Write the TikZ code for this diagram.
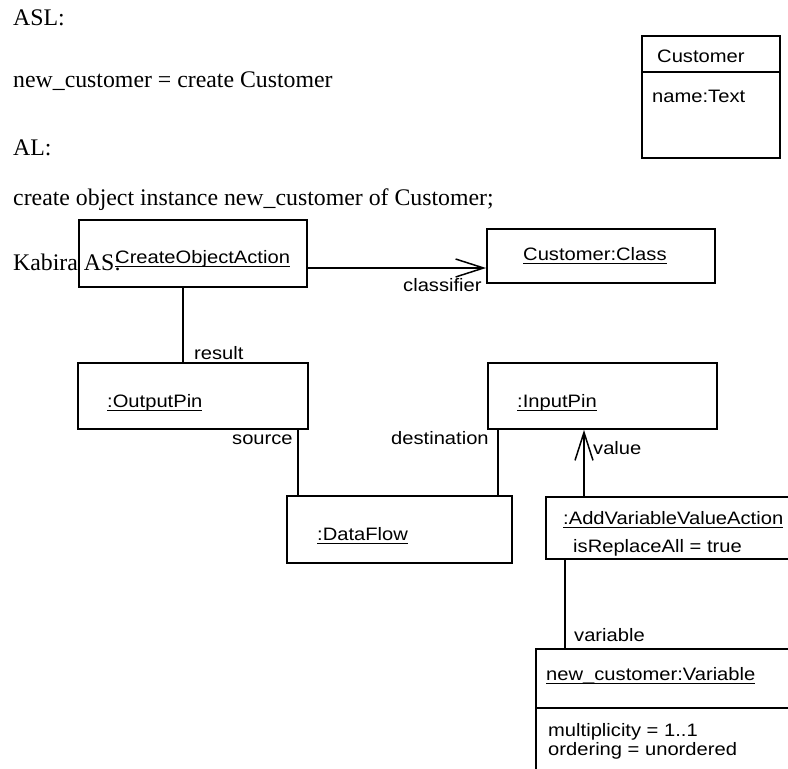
\documentclass[tikz,border=0pt]{standalone}
\usepackage{fontspec}
\setmainfont{Liberation Serif}
\newfontfamily\umlfont[FakeStretch=1.12]{Liberation Sans}
\usetikzlibrary{arrows.meta}

% underlined object name with a rule scaled to the label size
\newcommand\objname[1]{\leavevmode\setbox0=\hbox{#1}\rlap{\rule[-4.4pt]{\wd0}{1.5pt}}\box0}

\tikzset{
  prose/.style={inner sep=0pt, anchor=base west, font=\fontsize{23.8}{28}\selectfont},
  umltext/.style={inner sep=0pt, anchor=base west, font=\umlfont\fontsize{18}{21}\selectfont},
  box/.style={draw, line width=1.9pt, inner sep=0pt, fill=none},
  link/.style={line width=1.9pt},
  navarrow/.style={line width=1.9pt, -{Straight Barb[length=28pt,width=18pt,line width=1.5pt]}},
}

\begin{document}
\begin{tikzpicture}[x=1pt, y=-1pt]
\useasboundingbox (0,0) rectangle (788,769);
\clip (0,0) rectangle (788,769);
\fill[white] (0,0) rectangle (788,769);

% action language listing
\node[prose] (asl)   at (13,25)  {ASL:};
\node[prose] (aslc)  at (13,87)  {new\_customer = create Customer};
\node[prose] (al)    at (13,155) {AL:};
\node[prose] (alc)   at (13,205) {create object instance new\_customer of Customer;};
\node[prose] (kab)   at (13,270) {Kabira AS:};

% class Customer
\node[box, minimum width=138pt, minimum height=122pt] (cust) at (711,97) {};
\draw[link] ([yshift=-37pt]cust.north west) -- ([yshift=-37pt]cust.north east);
\node[umltext] (custn) at (657,62)  {Customer};
\node[umltext] (custa) at (652,102) {name:Text};

% instance boxes
\node[box, minimum width=228pt, minimum height=67pt] (coa)    at (193,253.5) {};
\node[box, minimum width=228pt, minimum height=54pt] (cls)    at (601,256)   {};
\node[box, minimum width=230pt, minimum height=66pt] (outpin) at (193,396)   {};
\node[box, minimum width=229pt, minimum height=66pt] (inpin)  at (602.5,396) {};
\node[box, minimum width=225pt, minimum height=67pt] (df)     at (399.5,529.5) {};
\node[box, minimum width=254pt, minimum height=62pt] (avva)   at (673,528)   {};
\node[box, minimum width=264pt, minimum height=151pt] (var)   at (668,724.5) {};
\draw[link] ([yshift=-60pt]var.north west) -- ([yshift=-60pt]var.north east);

\node[umltext] (coan)  at (115,263) {\objname{CreateObjectAction}};
\node[umltext] (clsn)  at (523,260) {\objname{Customer:Class}};
\node[umltext] (outn)  at (107,407) {\objname{:OutputPin}};
\node[umltext] (inn)   at (517,407) {\objname{:InputPin}};
\node[umltext] (dfn)   at (317,540) {\objname{:DataFlow}};
\node[umltext] (avvan) at (563,524) {\objname{:AddVariableValueAction}};
\node[umltext] (avvaa) at (573,552) {isReplaceAll = true};
\node[umltext] (varn)  at (546,680) {\objname{new\_customer:Variable}};
\node[umltext] (vara)  at (548,736) {multiplicity = 1..1};
\node[umltext] (varb)  at (548,755) {ordering = unordered};

% connector columns and rows
\coordinate (rowcls) at (0,268);
\coordinate (colres) at (183,0);
\coordinate (colsrc) at (298,0);
\coordinate (coldst) at (498,0);
\coordinate (colval) at (584,0);
\coordinate (colvar) at (565,0);

% connectors
\draw[navarrow] (coa.east |- rowcls) -- (cls.west |- rowcls);
\draw[link] (coa.south -| colres) -- (outpin.north -| colres);
\draw[link] (outpin.south -| colsrc) -- (df.north -| colsrc);
\draw[link] (inpin.south -| coldst) -- (df.north -| coldst);
\draw[navarrow] (avva.north -| colval) -- (inpin.south -| colval);
\draw[link] (avva.south -| colvar) -- (var.north -| colvar);

% role names
\node[umltext] (lcls) at (403,291) {classifier};
\node[umltext] (lres) at (194,359) {result};
\node[umltext] (lsrc) at (232,444) {source};
\node[umltext] (ldst) at (391,444) {destination};
\node[umltext] (lval) at (593,454) {value};
\node[umltext] (lvar) at (574,641) {variable};
\end{tikzpicture}
\end{document}
